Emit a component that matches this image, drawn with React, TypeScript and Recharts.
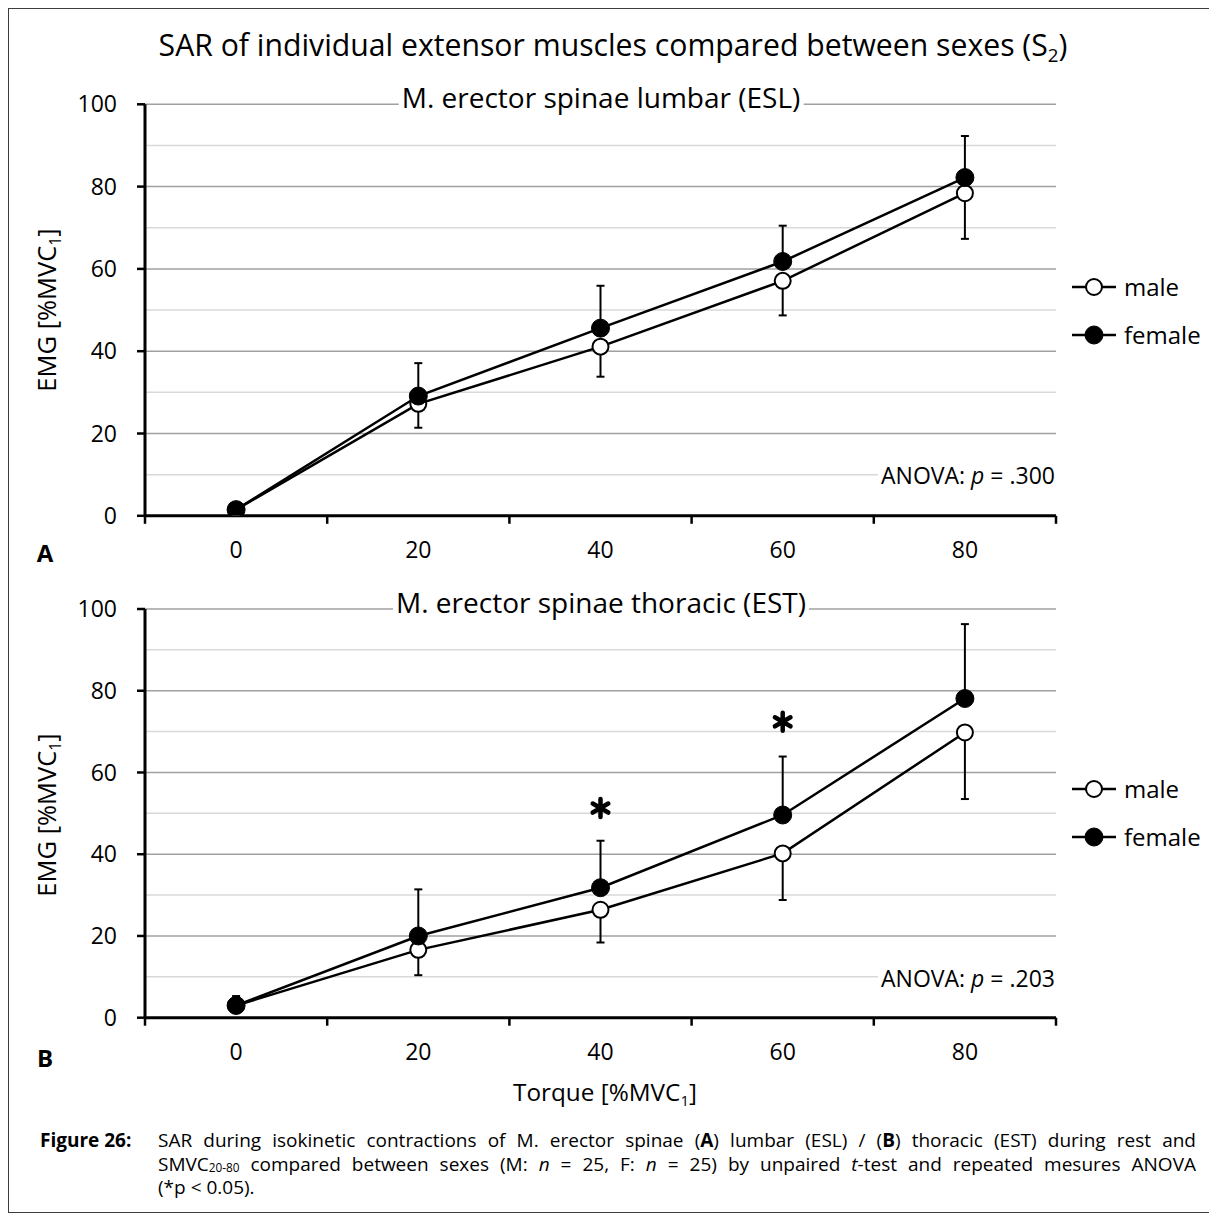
import React from "react";
import {
  ComposedChart,
  Line,
  Scatter,
  XAxis,
  YAxis,
  ReferenceLine,
  ErrorBar,
  Legend,
} from "recharts";

// torque levels (%MVC1)
const torque = [0, 20, 40, 60, 80];

// M. erector spinae lumbar (ESL)
const eslMale = [1.5, 27.2, 41.1, 57.1, 78.4];
const eslMaleSD = [1, 5.8, 7.3, 8.4, 11.1];
const eslFemale = [1.5, 29.1, 45.6, 61.8, 82.2];
const eslFemaleSD = [1, 8.0, 10.3, 8.7, 10.1];

// M. erector spinae thoracic (EST)
const estMale = [3.0, 16.6, 26.4, 40.2, 69.8];
const estMaleSD = [1.5, 6.2, 8.0, 11.4, 16.3];
const estFemale = [3.0, 20.0, 31.8, 49.6, 78.1];
const estFemaleSD = [2.3, 11.4, 11.5, 14.3, 18.2];

// significant differences (*p < 0.05)
const eslStars: { x: number; y: number }[] = [];
const estStars = [
  { x: 40, y: 51.3 },
  { x: 60, y: 72.4 },
];

const seriesOrder = ["male", "female"];
const yTicks = [0, 20, 40, 60, 80, 100];
const majorGrid = [20, 40, 60, 80, 100];
const minorGrid = [10, 30, 50, 70, 90];
const xBoundaries = [-10, 10, 30, 50, 70, 90];
const xTicks = [...xBoundaries, ...torque].sort((a, b) => a - b);

const FONT = '"Open Sans", Lato, sans-serif';

function buildRows(male: number[], maleSD: number[], female: number[], femaleSD: number[]) {
  return torque.map((x, i) => ({
    x,
    male: male[i],
    female: female[i],
    maleErr: [maleSD[i], 0],
    femaleErr: [0, femaleSD[i]],
  }));
}

function XTick(props: any) {
  const { x, y, payload } = props;
  const v = payload.value;
  if (xBoundaries.includes(v)) {
    return <line x1={x} y1={y} x2={x} y2={y + 8} stroke="#000" strokeWidth={2.5} />;
  }
  return (
    <text x={x} y={y + 36} textAnchor="middle" dominantBaseline="middle" fontSize={23} fill="#000">
      {v}
    </text>
  );
}

function Star(props: any) {
  const { cx, cy } = props;
  const r = 9;
  const d = [0, 60, 120]
    .map((a) => {
      const t = (a * Math.PI) / 180;
      const dx = Math.sin(t) * r;
      const dy = Math.cos(t) * r;
      return `M${cx - dx},${cy - dy}L${cx + dx},${cy + dy}`;
    })
    .join("");
  return <path d={d} stroke="#000" strokeWidth={4.5} strokeLinecap="round" />;
}

function LegendContent(props: any) {
  const items = (props.payload || [])
    .filter((p: any) => seriesOrder.includes(p.dataKey))
    .sort((a: any, b: any) => seriesOrder.indexOf(a.dataKey) - seriesOrder.indexOf(b.dataKey));
  return (
    <div>
      {items.map((p: any) => (
        <div key={p.dataKey} style={{ display: "flex", alignItems: "center", height: 48 }}>
          <svg width={44} height={24} style={{ flex: "none" }}>
            <line x1={0} y1={12} x2={44} y2={12} stroke="#000" strokeWidth={2.5} />
            <circle
              cx={22}
              cy={12}
              r={p.dataKey === "male" ? 8 : 9}
              fill={p.dataKey === "male" ? "#fff" : "#000"}
              stroke="#000"
              strokeWidth={p.dataKey === "male" ? 2 : 1}
            />
          </svg>
          <span style={{ fontSize: 24, marginLeft: 8, color: "#000", lineHeight: 1 }}>{p.value}</span>
        </div>
      ))}
    </div>
  );
}

function Panel({
  rows,
  stars,
  marginTop,
  marginBottom,
  height,
  legendTop,
}: {
  rows: any[];
  stars: { x: number; y: number }[];
  marginTop: number;
  marginBottom: number;
  height: number;
  legendTop: number;
}) {
  return (
    <ComposedChart
      width={1100}
      height={height}
      data={rows}
      margin={{ top: marginTop, right: 53, bottom: marginBottom, left: 76 }}
    >
      {minorGrid.map((v) => (
        <ReferenceLine key={"n" + v} y={v} stroke="#d9d9d9" strokeWidth={1.5} />
      ))}
      {majorGrid.map((v) => (
        <ReferenceLine key={"j" + v} y={v} stroke="#a0a0a0" strokeWidth={1.5} />
      ))}
      <XAxis
        type="number"
        dataKey="x"
        domain={[-10, 90]}
        ticks={xTicks}
        interval={0}
        height={50}
        tickLine={false}
        tickSize={0}
        tickMargin={0}
        axisLine={{ stroke: "#000", strokeWidth: 3 }}
        tick={(p: any) => <XTick {...p} />}
        allowDataOverflow
      />
      <YAxis
        type="number"
        domain={[0, 100]}
        ticks={yTicks}
        interval={0}
        width={60}
        axisLine={{ stroke: "#000", strokeWidth: 3 }}
        tickLine={{ stroke: "#000", strokeWidth: 2.5 }}
        tickSize={8}
        tickMargin={20}
        tick={{ fill: "#000", fontSize: 23 }}
        allowDataOverflow
      />
      <Line
        dataKey="male"
        name="male"
        stroke="#000"
        strokeWidth={2.5}
        dot={{ r: 8, fill: "#fff", stroke: "#000", strokeWidth: 2 }}
        activeDot={false}
        isAnimationActive={false}
      >
        <ErrorBar dataKey="maleErr" direction="y" width={4} stroke="#000" strokeWidth={2} isAnimationActive={false} />
      </Line>
      <Line
        dataKey="female"
        name="female"
        stroke="#000"
        strokeWidth={2.5}
        dot={{ r: 9, fill: "#000", stroke: "#000", strokeWidth: 1 }}
        activeDot={false}
        isAnimationActive={false}
      >
        <ErrorBar dataKey="femaleErr" direction="y" width={4} stroke="#000" strokeWidth={2} isAnimationActive={false} />
      </Line>
      {stars.length > 0 && (
        <Scatter data={stars} dataKey="y" shape={<Star />} legendType="none" isAnimationActive={false} />
      )}
      <Legend
        layout="horizontal"
        align="center"
        verticalAlign="middle"
        content={<LegendContent />}
        wrapperStyle={{ left: 1063, top: legendTop, width: 150, height: 96 }}
      />
    </ComposedChart>
  );
}

function Txt({
  x,
  y,
  size = 23,
  bold = false,
  rotate = false,
  bg = false,
  anchor = "middle",
  children,
}: any) {
  const tx = anchor === "middle" ? "-50%" : anchor === "end" ? "-100%" : "0";
  return (
    <div
      style={{
        position: "absolute",
        left: x,
        top: y,
        fontSize: size,
        fontWeight: bold ? 700 : 400,
        lineHeight: 1,
        whiteSpace: "nowrap",
        background: bg ? "#fff" : "transparent",
        padding: bg ? "0 3px" : 0,
        transform: `translate(${tx}, -50%)${rotate ? " rotate(-90deg)" : ""}`,
        transformOrigin: rotate ? "center" : undefined,
      }}
    >
      {children}
    </div>
  );
}

const sub = (s: string, drop = 0.3) => (
  <span style={{ fontSize: "0.62em", position: "relative", top: `${drop}em`, lineHeight: 0 }}>{s}</span>
);

const justified = { textAlign: "justify" as const, textAlignLast: "justify" as const, whiteSpace: "nowrap" as const };

export default function App() {
  const rowsA = buildRows(eslMale, eslMaleSD, eslFemale, eslFemaleSD);
  const rowsB = buildRows(estMale, estMaleSD, estFemale, estFemaleSD);
  return (
    <div
      style={{
        position: "relative",
        width: 1205,
        height: 1205,
        border: "1px solid #3c3c3c",
        boxSizing: "border-box",
        background: "#fff",
        fontFamily: FONT,
        color: "#000",
      }}
    >
      <div style={{ position: "absolute", left: 0, top: 0 }}>
        <Panel rows={rowsA} stars={eslStars} marginTop={95.3} marginBottom={3.2} height={560} legendTop={254} />
      </div>
      <div style={{ position: "absolute", left: 0, top: 560 }}>
        <Panel rows={rowsB} stars={estStars} marginTop={40} marginBottom={11.3} height={510} legendTop={196} />
      </div>

      <Txt x={604} y={36} size={30.2}>
        SAR of individual extensor muscles compared between sexes (S{sub("2")})
      </Txt>
      <Txt x={592} y={88} size={28} bg>
        M. erector spinae lumbar (ESL)
      </Txt>
      <Txt x={592} y={593} size={28} bg>
        M. erector spinae thoracic (EST)
      </Txt>
      <Txt x={1049} y={465.5} size={23} bg anchor="end">
        ANOVA: <i>p</i> = .300
      </Txt>
      <Txt x={1049} y={968.5} size={23} bg anchor="end">
        ANOVA: <i>p</i> = .203
      </Txt>
      <Txt x={38} y={301} size={25.5} rotate>
        EMG [%MVC{sub("1")}]
      </Txt>
      <Txt x={38} y={806} size={25.5} rotate>
        EMG [%MVC{sub("1")}]
      </Txt>
      <Txt x={36} y={544} size={24} bold>
        A
      </Txt>
      <Txt x={36} y={1049} size={24} bold>
        B
      </Txt>
      <Txt x={596} y={1083} size={24.3}>
        Torque [%MVC{sub("1")}]
      </Txt>

      <div
        style={{
          position: "absolute",
          left: 31,
          top: 1120,
          width: 1156,
          fontSize: 19,
          lineHeight: "23.5px",
          display: "flex",
        }}
      >
        <div style={{ width: 118, flex: "none", fontWeight: 700 }}>Figure 26:</div>
        <div style={{ flex: 1, minWidth: 0 }}>
          <div style={justified}>
            SAR during isokinetic contractions of M. erector spinae (<b>A</b>) lumbar (ESL) / (<b>B</b>) thoracic (EST) during rest and
          </div>
          <div style={justified}>
            SMVC{sub("20-80", 0.15)} compared between sexes (M: <i>n</i> = 25, F: <i>n</i> = 25) by unpaired <i>t</i>-test and repeated mesures ANOVA
          </div>
          <div>(*p &lt; 0.05).</div>
        </div>
      </div>
    </div>
  );
}
